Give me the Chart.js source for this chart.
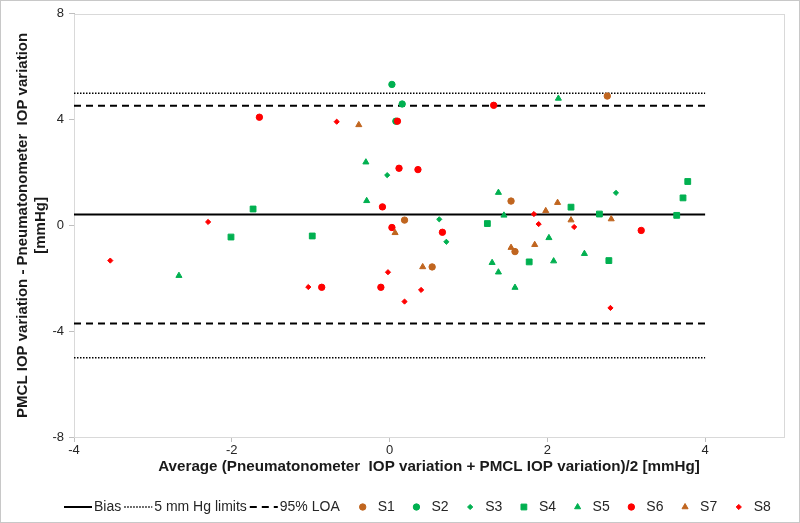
<!DOCTYPE html>
<html>
<head>
<meta charset="utf-8">
<script src="https://cdn.jsdelivr.net/npm/chart.js@4.4.1/dist/chart.umd.min.js"></script>
<style>
  html, body { margin: 0; padding: 0; background: #fff; }
  #wrap { width: 800px; height: 523px; box-sizing: border-box; border: 1px solid #c8c8c8; }
  canvas { display: block; }
</style>
</head>
<body>
<div id="wrap"><canvas id="chart" width="798" height="521"></canvas></div>
<script>
// reference lines
const lineSpan = [-4, 4];
const bias = 0.41;
const loa = [4.52, -3.71];
const limits = [5, -5];

// subjects: average (x) and difference (y)
const s1Avg = [0.19, 1.54, 0.54, 1.59, 2.76];
const s1Diff = [0.20, 0.92, -1.57, -0.99, 4.89];
const s2Avg = [0.03, 0.16, 0.08];
const s2Diff = [5.33, 4.59, 3.94];
const s3Avg = [-0.03, 0.63, 0.72, 2.87];
const s3Diff = [1.90, 0.23, -0.62, 1.23];
const s4Avg = [-1.73, -2.01, -0.98, 1.24, 1.77, 2.30, 2.66, 2.78, 3.64, 3.72, 3.78];
const s4Diff = [0.62, -0.44, -0.40, 0.07, -1.38, 0.69, 0.43, -1.33, 0.38, 1.04, 1.66];
const s5Avg = [-2.67, -0.30, -0.29, 1.38, 1.45, 2.14, 1.30, 1.38, 1.59, 2.02, 2.08, 2.47];
const s5Diff = [-1.90, 2.39, 0.93, 1.24, 0.38, 4.80, -1.41, -1.77, -2.35, -0.47, -1.35, -1.07];
const s6Avg = [-1.65, 0.10, 0.12, 0.36, -0.09, 0.03, 0.67, 1.32, 3.19, -0.86, -0.11];
const s6Diff = [4.09, 3.94, 2.16, 2.11, 0.70, -0.08, -0.26, 4.54, -0.19, -2.34, -2.34];
const s7Avg = [-0.39, 0.07, 0.42, 1.54, 1.84, 1.98, 2.13, 2.30, 2.81];
const s7Diff = [3.80, -0.28, -1.57, -0.84, -0.73, 0.55, 0.86, 0.20, 0.24];
const s8Avg = [-3.54, -2.30, -0.67, -1.03, -0.02, 0.40, 0.19, 1.83, 1.89, 2.34, 2.80];
const s8Diff = [-1.33, 0.13, 3.92, -2.33, -1.77, -2.44, -2.88, 0.43, 0.05, -0.06, -3.12];

const BROWN = '#c0651f';
const GREEN = '#00b050';
const RED = '#ff0000';

const pts = (xs, ys) => xs.map((x, i) => ({ x: x, y: ys[i] }));
const hline = (v) => lineSpan.map((x) => ({ x: x, y: v }));

function refLine(label, data, width, dash) {
    return {
        label: label,
        data: data,
        showLine: true,
        borderColor: '#000',
        backgroundColor: '#000',
        borderWidth: width,
        borderDash: dash,
        pointRadius: 0,
        order: 10,
    };
}

function subject(label, xs, ys, color, style, radius, order) {
    return {
        label: label,
        data: pts(xs, ys),
        backgroundColor: color,
        borderColor: color,
        pointStyle: style,
        pointRadius: radius,
        pointBorderWidth: 1,
        order: order,
    };
}

// the lower limit lines are extra datasets kept out of the legend
const datasets = [
    refLine('Bias', hline(bias), 2, []),
    refLine('5 mm Hg limits', hline(limits[0]), 1.5, [1.5, 1.5]),
    refLine('95% LOA', hline(loa[0]), 2, [7, 5]),
    subject('S1', s1Avg, s1Diff, BROWN, 'circle', 3.2, 8),
    subject('S2', s2Avg, s2Diff, GREEN, 'circle', 3.2, 7),
    subject('S3', s3Avg, s3Diff, GREEN, 'rectRot', 2.6, 6),
    subject('S4', s4Avg, s4Diff, GREEN, 'rect', 4.1, 5),
    subject('S5', s5Avg, s5Diff, GREEN, 'triangle', 3.5, 4),
    subject('S6', s6Avg, s6Diff, RED, 'circle', 3.2, 3),
    subject('S7', s7Avg, s7Diff, BROWN, 'triangle', 3.5, 2),
    subject('S8', s8Avg, s8Diff, RED, 'rectRot', 2.6, 1),
    Object.assign(refLine('', hline(limits[1]), 1.5, [1.5, 1.5]), { hideInLegend: true }),
    Object.assign(refLine('', hline(loa[1]), 2, [7, 5]), { hideInLegend: true }),
];

const FONT = '"Liberation Sans", Arial, sans-serif';

const plotFrame = {
    id: 'plotFrame',
    beforeDatasetsDraw(chart) {
        const { ctx, chartArea: a } = chart;
        ctx.save();
        ctx.strokeStyle = '#d9d9d9';
        ctx.lineWidth = 1;
        ctx.strokeRect(Math.round(a.left) + 0.5, Math.round(a.top) + 0.5,
            Math.round(a.right - a.left), Math.round(a.bottom - a.top));
        ctx.restore();
    },
};

const bottomLegend = {
    id: 'bottomLegend',
    afterDraw(chart) {
        const ctx = chart.ctx;
        const y = 506;
        let x = 63;
        let prevLine = true;
        ctx.save();
        ctx.font = '14px ' + FONT;
        ctx.textBaseline = 'middle';
        chart.data.datasets.forEach((ds) => {
            if (ds.hideInLegend) return;
            const w = ctx.measureText(ds.label).width;
            if (ds.showLine) {
                ctx.strokeStyle = ds.borderColor;
                ctx.lineWidth = ds.borderWidth;
                ctx.setLineDash(ds.borderDash);
                ctx.beginPath();
                ctx.moveTo(x, y);
                ctx.lineTo(x + 28, y);
                ctx.stroke();
                ctx.setLineDash([]);
                ctx.fillStyle = '#262626';
                ctx.fillText(ds.label, x + 30, y);
                x += 30 + w + 3;
                prevLine = true;
            } else {
                if (prevLine) x += 16;
                const cx = x + 4;
                ctx.fillStyle = ds.backgroundColor;
                ctx.strokeStyle = ds.borderColor;
                ctx.lineWidth = ds.pointBorderWidth;
                Chart.helpers.drawPoint(ctx, {
                    pointStyle: ds.pointStyle,
                    radius: ds.pointRadius,
                    rotation: 0,
                    borderWidth: ds.pointBorderWidth,
                }, cx, y);
                ctx.fillStyle = '#262626';
                ctx.fillText(ds.label, cx + 15, y);
                x = cx + 15 + w + 17.6;
                prevLine = false;
            }
        });
        ctx.restore();
    },
};

new Chart(document.getElementById('chart'), {
    type: 'scatter',
    data: { datasets: datasets },
    plugins: [plotFrame, bottomLegend],
    options: {
        responsive: false,
        animation: false,
        events: [],
        layout: { padding: { left: 0, top: 12, right: 15, bottom: 40 } },
        plugins: {
            legend: { display: false },
            tooltip: { enabled: false },
        },
        scales: {
            x: {
                type: 'linear',
                min: -4,
                max: 5,
                afterBuildTicks(scale) {
                    scale.ticks = scale.ticks.filter((t) => t.value !== 5);
                },
                afterFit(scale) { scale.height = 45; },
                ticks: {
                    stepSize: 2,
                    padding: 1,
                    color: '#262626',
                    font: { family: FONT, size: 13 },
                },
                grid: { drawOnChartArea: false, tickLength: 5, color: '#bfbfbf' },
                border: { color: '#bfbfbf' },
                title: {
                    display: true,
                    text: 'Average (Pneumatonometer  IOP variation + PMCL IOP variation)/2 [mmHg]',
                    color: '#1a1a1a',
                    font: { family: FONT, size: 15.2, weight: 'bold' },
                    padding: { top: 0, bottom: 6 },
                },
            },
            y: {
                type: 'linear',
                min: -8,
                max: 8,
                afterFit(scale) { scale.width = 73; },
                ticks: {
                    stepSize: 4,
                    padding: 5,
                    color: '#262626',
                    font: { family: FONT, size: 13 },
                },
                grid: { drawOnChartArea: false, tickLength: 5, color: '#bfbfbf' },
                border: { color: '#bfbfbf' },
                title: {
                    display: true,
                    text: ['PMCL IOP variation - Pneumatonometer  IOP variation', '[mmHg]'],
                    color: '#1a1a1a',
                    font: { family: FONT, size: 15, weight: 'bold' },
                    padding: { top: 13, bottom: 0 },
                },
            },
        },
    },
});
</script>
</body>
</html>
